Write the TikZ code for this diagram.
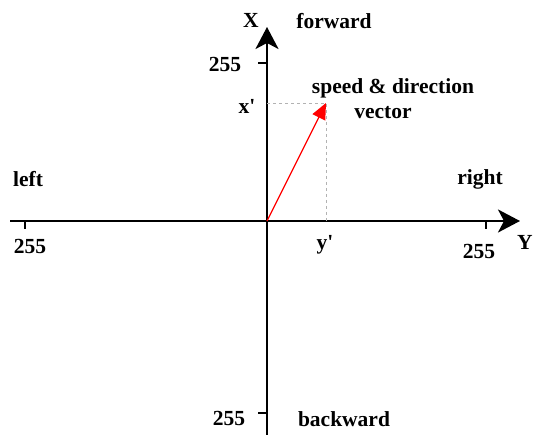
\documentclass[tikz,border=0pt]{standalone}
\usepackage{fontspec}
\setmainfont{Liberation Serif}
\usetikzlibrary{arrows.meta}
\begin{document}
\begin{tikzpicture}[x=1pt,y=-1pt,
  lbl/.style={inner sep=0pt,font=\fontsize{21.5}{24}\selectfont\bfseries},
  axis/.style={line width=2.4pt,-{Stealth[length=22pt,width=23pt,inset=6pt]}},
  tick/.style={line width=1.6pt},
  guide/.style={gray!60,dashed,line width=0.8pt},
  vec/.style={red,line width=1.3pt,-{Triangle[length=16pt,width=14pt]}}]
\useasboundingbox (0,0) rectangle (533,435);
% coordinates
\coordinate (o) at (267,221);
\coordinate (xl) at (10,221);
\coordinate (xr) at (520,221);
\coordinate (yb) at (267,437);
\coordinate (yt) at (267,27);
\coordinate (v) at (326,103);
\coordinate (vx) at (267,103);
\coordinate (vy) at (326,221);
% axes
\draw[axis] (xl) -- (xr);
\draw[axis] (yb) -- (yt);
% ticks
\coordinate (tl) at (25,221); \coordinate (tl2) at (25,229);
\coordinate (tr) at (486,221); \coordinate (tr2) at (486,229);
\coordinate (tt) at (267,63); \coordinate (tt2) at (258,63);
\coordinate (tb) at (267,413); \coordinate (tb2) at (258,413);
\draw[tick] (tl) -- (tl2);
\draw[tick] (tr) -- (tr2);
\draw[tick] (tt) -- (tt2);
\draw[tick] (tb) -- (tb2);
% guides
\draw[guide] (vx) -- (v) -- (vy);
% vector
\draw[vec] (o) -- (v);
% labels
\node[lbl] (lX) at (251,20) {X};
\node[lbl] (lfwd) at (334,21) {forward};
\node[lbl] (l255t) at (225,64) {255};
\node[lbl] (lxp) at (247,106) {x\textquotesingle};
\node[lbl] (lsd) at (393,88) {speed \& direction};
\node[lbl] (lvec) at (383,113) {vector};
\node[lbl] (lleft) at (28,179) {left};
\node[lbl] (lright) at (480,179) {right};
\node[lbl] (l255l) at (30,246) {255};
\node[lbl] (lyp) at (325,245) {y\textquotesingle};
\node[lbl] (l255r) at (479,251) {255};
\node[lbl] (lY) at (525,242) {Y};
\node[lbl] (l255b) at (229,418) {255};
\node[lbl] (lbwd) at (344,419) {backward};
\end{tikzpicture}
\end{document}
